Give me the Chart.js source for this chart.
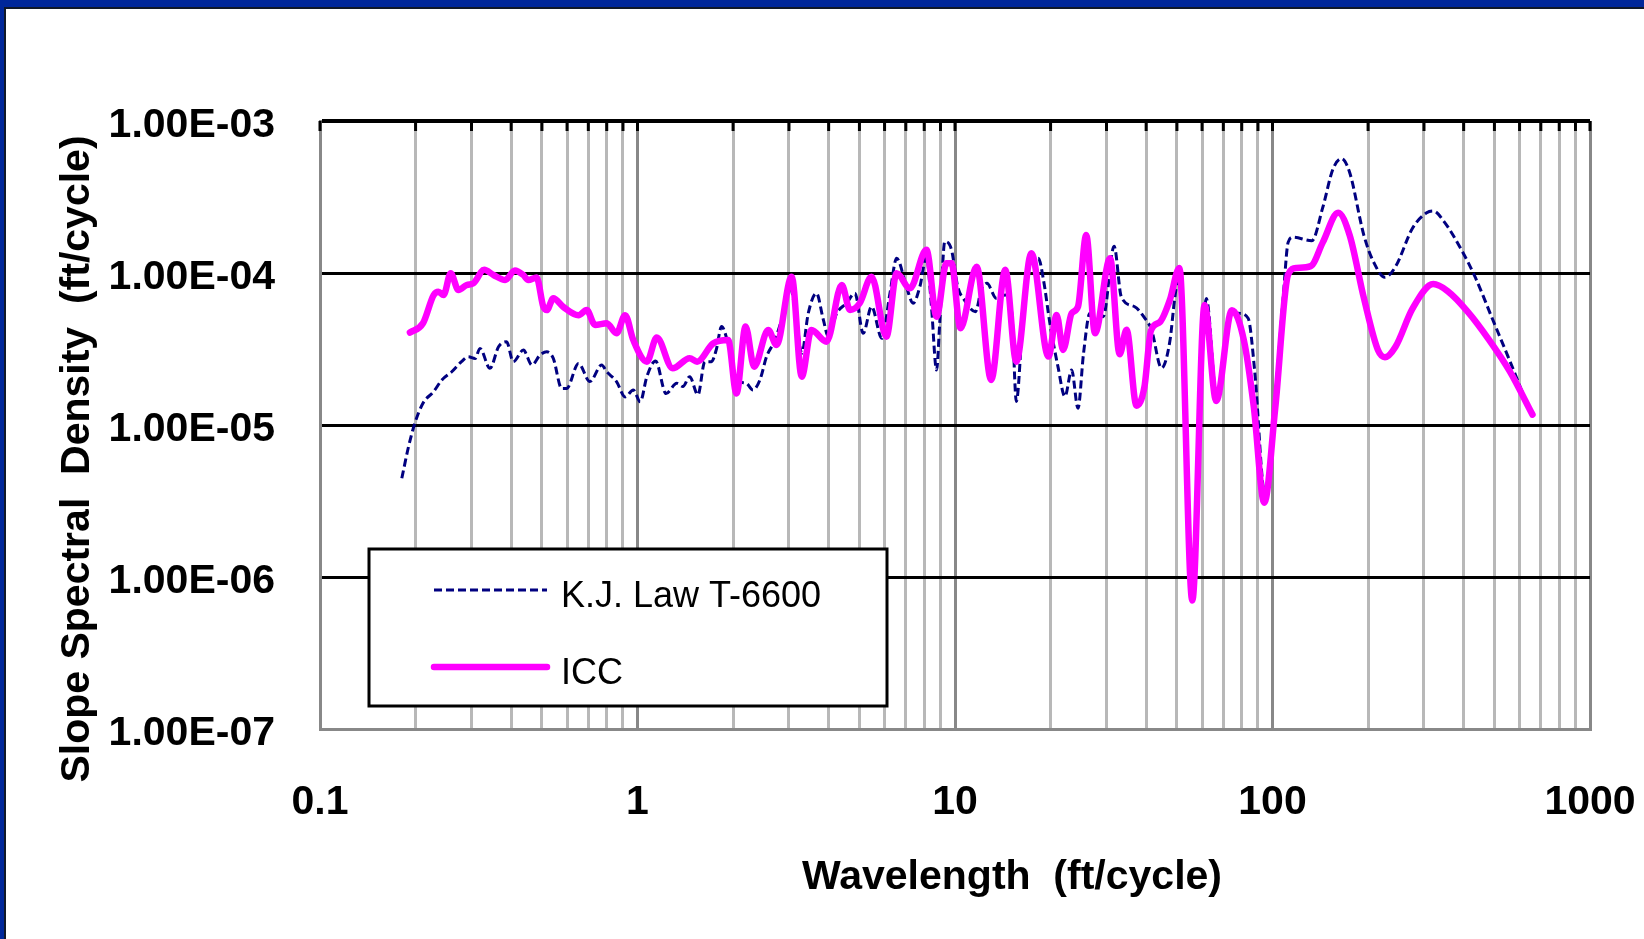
<!DOCTYPE html>
<html>
<head>
<meta charset="utf-8">
<script src="https://cdn.jsdelivr.net/npm/chart.js@4.4.1/dist/chart.umd.min.js"></script>
<style>
  body { margin: 0; width: 1644px; height: 939px; overflow: hidden; position: relative; background: #00279a; }
  #frame { position: absolute; left: 4px; top: 7px; right: 0; bottom: 0; background: #fff;
           border-left: 2px solid #101828; border-top: 2px solid #101828; }
  #wrap { position: absolute; left: 0; top: 0; width: 1644px; height: 939px; }
</style>
</head>
<body>
<div id="frame"></div>
<div id="wrap"><canvas id="psdChart"></canvas></div>
<script>
// wavelength (ft/cycle) and slope spectral density (ft/cycle)
var kjWavelength = [0.181,0.190,0.199,0.211,0.228,0.242,0.260,0.279,0.293,0.308,
  0.319,0.343,0.365,0.387,0.406,0.437,0.465,0.493,0.518,0.543,
  0.577,0.598,0.652,0.708,0.771,0.800,0.859,0.914,0.970,1.02,
  1.07,1.14,1.23,1.33,1.39,1.46,1.55,1.63,1.71,1.77,
  1.84,1.95,2.05,2.20,2.31,2.43,2.55,2.71,2.88,3.02,
  3.17,3.29,3.45,3.66,3.85,3.99,4.24,4.55,4.84,5.14,
  5.46,5.88,6.24,6.55,7.03,7.38,7.75,8.13,8.43,8.75,
  8.95,9.29,9.75,10.2,10.7,11.6,12.1,12.6,13.5,14.4,
  15.1,15.6,16.4,17.4,18.3,19.0,19.9,21.1,22.2,23.3,
  24.4,25.4,26.6,29.3,31.7,33.4,36.8,39.6,41.6,44.7,
  47.5,49.2,51.1,55.9,61.9,66.7,74.3,78.0,83.8,87.9,
  94.6,102,108,112,116,133,144,155,165,175,
  194,209,226,244,276,306,321,347,393,435,493,559,650];
var kjDensity = [4.46e-6,7.19e-6,1.03e-5,1.39e-5,1.66e-5,1.98e-5,2.24e-5,2.61e-5,2.81e-5,2.74e-5,
  3.19e-5,2.36e-5,3.27e-5,3.53e-5,2.61e-5,3.11e-5,2.48e-5,2.88e-5,3.03e-5,2.74e-5,
  1.74e-5,1.74e-5,2.54e-5,1.93e-5,2.48e-5,2.24e-5,1.93e-5,1.53e-5,1.70e-5,1.42e-5,
  2.08e-5,2.64e-5,1.61e-5,1.88e-5,1.79e-5,2.08e-5,1.58e-5,2.61e-5,2.61e-5,3.12e-5,
  4.44e-5,3.12e-5,1.98e-5,1.88e-5,1.70e-5,1.98e-5,2.82e-5,3.62e-5,5.43e-5,8.13e-5,
  4.91e-5,2.96e-5,5.43e-5,7.35e-5,4.91e-5,3.81e-5,5.43e-5,6.32e-5,7.35e-5,4.01e-5,
  6.01e-5,3.72e-5,7.35e-5,1.25e-4,8.13e-5,6.32e-5,8.13e-5,1.28e-4,6.01e-5,2.30e-5,
  4.67e-5,1.61e-4,1.42e-4,8.13e-5,6.65e-5,5.57e-5,7.73e-5,8.55e-5,6.81e-5,7.16e-5,
  5.43e-5,1.43e-5,5.43e-5,1.22e-4,1.25e-4,8.99e-5,4.67e-5,2.42e-5,1.54e-5,2.30e-5,
  1.29e-5,2.96e-5,5.43e-5,5.16e-5,1.50e-4,6.97e-5,6.00e-5,5.04e-5,4.23e-5,2.37e-5,
  3.55e-5,6.79e-5,1.07e-4,8.3e-7,6.79e-5,1.51e-5,5.30e-5,5.43e-5,5.04e-5,2.26e-5,
  3.53e-6,1.51e-5,6.79e-5,1.59e-4,1.72e-4,1.63e-4,2.70e-4,4.82e-4,5.65e-4,4.58e-4,
  1.77e-4,1.16e-4,9.38e-5,1.10e-4,1.97e-4,2.49e-4,2.56e-4,2.18e-4,1.43e-4,9.38e-5,4.98e-5,2.64e-5,1.20e-5];

var iccWavelength = [0.192,0.211,0.228,0.236,0.245,0.258,0.273,0.290,0.304,0.329,
  0.352,0.383,0.411,0.437,0.453,0.481,0.505,0.518,0.543,0.583,
  0.652,0.692,0.735,0.800,0.859,0.914,0.970,1.07,1.15,1.29,
  1.46,1.54,1.73,1.93,2.05,2.19,2.33,2.58,2.74,3.06,
  3.29,3.53,3.94,4.40,4.67,5.01,5.46,6.08,6.55,7.21,
  8.13,8.75,9.40,9.75,10.4,11.7,13.0,14.4,15.6,17.4,
  19.7,20.9,21.9,23.3,24.4,25.9,27.6,30.8,33.0,34.7,
  37.3,39.5,41.4,44.2,47.5,50.9,55.9,61.1,66.5,74.5,
  81.3,87.3,94.2,102,112,119,132,144,161,175,
  194,215,226,244,276,321,356,413,481,559,659];
var iccDensity = [4.06e-5,4.67e-5,7.16e-5,7.53e-5,7.16e-5,9.95e-5,7.73e-5,8.34e-5,8.55e-5,1.05e-4,
  9.70e-5,8.99e-5,1.04e-4,9.70e-5,8.99e-5,9.35e-5,6.00e-5,5.70e-5,6.81e-5,6.00e-5,
  5.28e-5,5.70e-5,4.55e-5,4.67e-5,4.01e-5,5.28e-5,3.62e-5,2.61e-5,3.76e-5,2.36e-5,
  2.75e-5,2.61e-5,3.44e-5,3.62e-5,1.61e-5,4.44e-5,2.42e-5,4.22e-5,3.36e-5,9.46e-5,
  2.08e-5,4.22e-5,3.53e-5,8.34e-5,5.71e-5,6.32e-5,9.46e-5,3.81e-5,9.95e-5,7.93e-5,
  1.42e-4,5.16e-5,1.16e-4,1.16e-4,4.33e-5,1.10e-4,1.98e-5,1.05e-4,2.61e-5,1.35e-4,
  2.82e-5,5.30e-5,3.12e-5,5.43e-5,6.01e-5,1.78e-4,4.01e-5,1.25e-4,2.92e-5,4.24e-5,
  1.34e-5,1.78e-5,4.17e-5,4.76e-5,6.65e-5,1.08e-4,7.00e-7,6.15e-5,1.44e-5,5.69e-5,
  3.59e-5,1.32e-5,3.08e-6,1.29e-5,9.77e-5,1.08e-4,1.11e-4,1.59e-4,2.49e-4,1.77e-4,
  6.84e-5,3.10e-5,2.79e-5,3.27e-5,5.83e-5,8.45e-5,7.60e-5,5.53e-5,3.63e-5,2.25e-5,1.17e-5];

var xTicks = [0.1,0.2,0.3,0.4,0.5,0.6,0.7,0.8,0.9,
  1,2,3,4,5,6,7,8,9,
  10,20,30,40,50,60,70,80,90,
  100,200,300,400,500,600,700,800,900,1000];
var xLabelValues = [0.1, 1, 10, 100, 1000];
var xLabelTexts = ['0.1', '1', '10', '100', '1000'];
var yTicks = [1e-7, 1e-6, 1e-5, 1e-4, 1e-3];
var yTickLabels = ['1.00E-07', '1.00E-06', '1.00E-05', '1.00E-04', '1.00E-03'];

var FONT = '"Liberation Sans", Arial, sans-serif';

function toPoints(xs, ys) {
  return xs.map(function (x, i) { return { x: x, y: ys[i] }; });
}

var decor = {
  id: 'decor',
  beforeDatasetsDraw: function (chart) {
    // short black ticks hanging from the top frame
    var ctx = chart.ctx, area = chart.chartArea, sx = chart.scales.x;
    ctx.save();
    ctx.strokeStyle = '#000';
    ctx.lineWidth = 3;
    xTicks.forEach(function (v) {
      var px = sx.getPixelForValue(v);
      ctx.beginPath();
      ctx.moveTo(px, area.top);
      ctx.lineTo(px, area.top + 10);
      ctx.stroke();
    });
    ctx.restore();
  },
  afterDatasetsDraw: function (chart) {
    // legend box
    var ctx = chart.ctx, ds = chart.data.datasets;
    ctx.save();
    ctx.fillStyle = '#fff';
    ctx.fillRect(369, 549, 518, 157);
    ctx.strokeStyle = '#000';
    ctx.lineWidth = 3;
    ctx.strokeRect(369, 549, 518, 157);
    var rows = [590, 667];
    ds.forEach(function (d, i) {
      var y = rows[i];
      ctx.beginPath();
      ctx.strokeStyle = d.borderColor;
      ctx.lineWidth = d.borderWidth;
      ctx.lineCap = d.borderDash ? 'butt' : 'round';
      ctx.setLineDash(d.borderDash || []);
      ctx.moveTo(434, y);
      ctx.lineTo(547, y);
      ctx.stroke();
      ctx.setLineDash([]);
      ctx.fillStyle = '#000';
      ctx.font = '36px ' + FONT;
      ctx.textAlign = 'left';
      ctx.textBaseline = 'alphabetic';
      ctx.fillText(d.label, 561, y + 17);
    });
    ctx.restore();
  },
  afterDraw: function (chart) {
    var ctx = chart.ctx;
    ctx.save();
    ctx.fillStyle = '#000';
    ctx.font = 'bold 41px ' + FONT;
    ctx.textAlign = 'center';
    ctx.textBaseline = 'alphabetic';
    ctx.fillText('Wavelength  (ft/cycle)', 1012, 889);
    ctx.translate(89, 459);
    ctx.rotate(-Math.PI / 2);
    ctx.fillText('Slope Spectral  Density  (ft/cycle)', 0, 0);
    ctx.restore();
  }
};

var ctx = document.getElementById('psdChart');
var psdChart = new Chart(ctx, {
  type: 'line',
  data: {
    datasets: [
      {
        label: 'K.J. Law T-6600',
        data: toPoints(kjWavelength, kjDensity),
        borderColor: '#000080',
        borderWidth: 3,
        borderDash: [8, 4],
        pointRadius: 0,
        cubicInterpolationMode: 'monotone',
        order: 2
      },
      {
        label: 'ICC',
        data: toPoints(iccWavelength, iccDensity),
        borderColor: '#ff00ff',
        borderWidth: 6.5,
        borderCapStyle: 'round',
        borderJoinStyle: 'round',
        pointRadius: 0,
        cubicInterpolationMode: 'monotone',
        order: 1
      }
    ]
  },
  options: {
    responsive: true,
    maintainAspectRatio: false,
    animation: false,
    layout: { padding: { left: 0, top: 121, right: 54, bottom: 0 } },
    plugins: { legend: { display: false }, tooltip: { enabled: false } },
    scales: {
      x: {
        type: 'logarithmic',
        min: 0.1,
        max: 1000,
        afterBuildTicks: function (s) { s.ticks = xTicks.map(function (v) { return { value: v }; }); },
        afterFit: function (s) { s.height = 210; },
        ticks: {
          autoSkip: false,
          maxRotation: 0,
          minRotation: 0,
          padding: 4,
          color: '#000',
          font: { family: FONT, size: 41, weight: 'bold' },
          callback: function (v) {
            var i = xLabelValues.indexOf(v);
            return i >= 0 ? xLabelTexts[i] : '';
          }
        },
        grid: {
          drawTicks: true,
          tickLength: 45,
          tickColor: 'rgba(0,0,0,0)',
          lineWidth: 3,
          color: function (c) {
            if (!c.tick) return '#b8b8b8';
            return xLabelValues.indexOf(c.tick.value) >= 0 ? '#888888' : '#b8b8b8';
          }
        },
        border: { color: '#888888', width: 3 }
      },
      y: {
        type: 'logarithmic',
        min: 1e-7,
        max: 1e-3,
        afterBuildTicks: function (s) { s.ticks = yTicks.map(function (v) { return { value: v }; }); },
        afterFit: function (s) { s.width = 320; },
        ticks: {
          autoSkip: false,
          padding: 45,
          labelOffset: 5,
          color: '#000',
          font: { family: FONT, size: 41, weight: 'bold' },
          callback: function (v) {
            var i = yTicks.indexOf(v);
            return i >= 0 ? yTickLabels[i] : '';
          }
        },
        grid: {
          drawTicks: false,
          lineWidth: function (c) { return c.tick && c.tick.value === 1e-3 ? 4 : 3; },
          color: function (c) { return c.tick && c.tick.value === 1e-7 ? '#888888' : '#000'; }
        },
        border: { color: '#888888', width: 3 }
      }
    }
  },
  plugins: [decor]
});
</script>
</body>
</html>
